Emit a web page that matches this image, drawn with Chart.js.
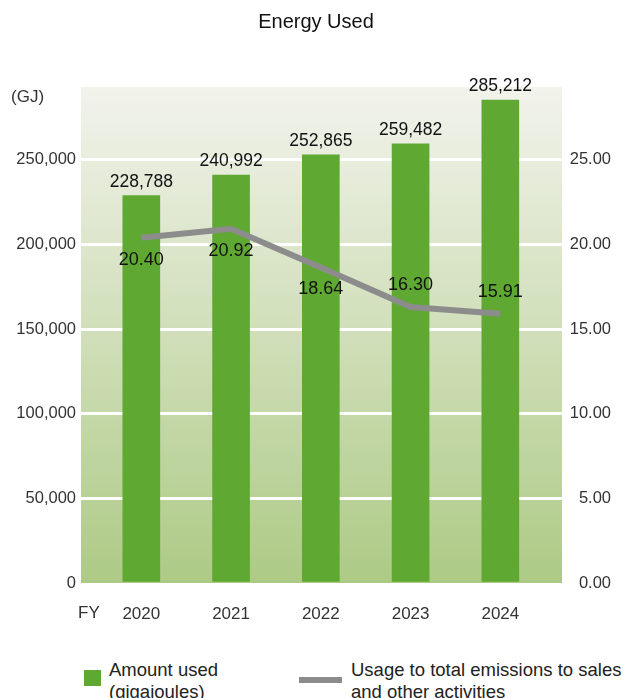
<!DOCTYPE html>
<html>
  <head>
    <title>Energy Used</title>
    <style>
      html, body { margin: 0; padding: 0; background: #fff; }
      body { width: 629px; height: 698px; position: relative; overflow: hidden;
        font-family: "Liberation Sans", Arial, sans-serif; color: #222; }
      #wrap { position: absolute; left: 0; top: 0; width: 629px; height: 640px; }
      .lg-text { position: absolute; font-size: 18.5px; line-height: 22px; white-space: nowrap; }
      .lg-box { position: absolute; }
    </style>
  </head>
  <body>
    <div id="wrap"><canvas id="energyChart"></canvas></div>

    <div class="lg-box" style="left:84px;top:670px;width:17px;height:16px;background:#5fa831"></div>
    <div class="lg-text" style="left:109px;top:659px">Amount used<br />(gigajoules)</div>
    <div class="lg-box" style="left:299px;top:677px;width:43px;height:6px;background:#8c8c8c"></div>
    <div class="lg-text" style="left:351px;top:659px">Usage to total emissions to sales<br />and other activities</div>

    <script src="https://cdn.jsdelivr.net/npm/chart.js"></script>
    <script>
      // datos del grafico
      var years = ["2020", "2021", "2022", "2023", "2024"];
      var amountUsed = [228788, 240992, 252865, 259482, 285212];
      var usageRatio = [20.40, 20.92, 18.64, 16.30, 15.91];
      var leftTicks = [0, 50000, 100000, 150000, 200000, 250000];
      var rightTicks = [0, 5, 10, 15, 20, 25];
      // donde va la etiqueta de la linea
      var ratioLabelSide = ["below", "below", "below", "above", "above"];

      var FONT = '"Liberation Sans", Arial, sans-serif';

      var chartDecor = {
        id: "chartDecor",
        beforeDraw: function (chart) {
          var a = chart.chartArea, ctx = chart.ctx;
          var g = ctx.createLinearGradient(0, a.top, 0, a.bottom);
          g.addColorStop(0, "#f2f3ec");
          g.addColorStop(1, "#adca85");
          ctx.save();
          ctx.fillStyle = g;
          ctx.fillRect(a.left, a.top, a.right - a.left, a.bottom - a.top);
          ctx.restore();
        },
        afterDatasetsDraw: function (chart) {
          var ctx = chart.ctx;
          ctx.save();
          ctx.fillStyle = "#111";
          ctx.textAlign = "center";
          ctx.textBaseline = "middle";

          ctx.font = "17.5px " + FONT;
          chart.getDatasetMeta(1).data.forEach(function (bar, i) {
            ctx.fillText(amountUsed[i].toLocaleString("en-US"), bar.x, bar.y - 14);
          });

          ctx.font = "18px " + FONT;
          chart.getDatasetMeta(0).data.forEach(function (pt, i) {
            var dy = ratioLabelSide[i] === "above" ? -22 : 22;
            ctx.fillText(usageRatio[i].toFixed(2), pt.x, pt.y + dy);
          });
          ctx.restore();
        },
        afterDraw: function (chart) {
          var ctx = chart.ctx;
          ctx.save();
          ctx.fillStyle = "#111";
          ctx.textBaseline = "middle";
          ctx.textAlign = "center";
          ctx.font = "20px " + FONT;
          ctx.fillText("Energy Used", 316, 22);
          ctx.fillStyle = "#333";
          ctx.textAlign = "left";
          ctx.font = "17px " + FONT;
          ctx.fillText("(GJ)", 11, 97);
          ctx.fillText("FY", 78, 613);
          ctx.restore();
        },
      };

      new Chart(document.getElementById("energyChart"), {
        data: {
          datasets: [
            {
              type: "line",
              label: "Usage to total emissions to sales and other activities",
              data: usageRatio.map(function (v, i) { return { x: i, y: v }; }),
              yAxisID: "y1",
              borderColor: "#8c8c8c",
              borderWidth: 6,
              pointRadius: 0,
              tension: 0,
              order: 0,
            },
            {
              type: "bar",
              label: "Amount used (gigajoules)",
              data: amountUsed.map(function (v, i) { return { x: i, y: v }; }),
              yAxisID: "y",
              backgroundColor: "#5fa831",
              barThickness: 37,
              order: 1,
            },
          ],
        },
        options: {
          responsive: true,
          maintainAspectRatio: false,
          animation: false,
          layout: { padding: { top: 87, right: 18, left: 0, bottom: 0 } },
          plugins: {
            legend: { display: false },
            tooltip: { enabled: false },
            title: { display: false },
          },
          scales: {
            x: {
              type: "linear",
              min: -0.672,
              max: 4.687,
              offset: false,
              grid: { display: false, drawTicks: false, offset: false },
              border: { display: false },
              afterBuildTicks: function (scale) {
                scale.ticks = years.map(function (y, i) { return { value: i }; });
              },
              afterFit: function (scale) { scale.height = 57; },
              ticks: {
                autoSkip: false,
                maxRotation: 0,
                padding: 21,
                color: "#333",
                font: { family: FONT, size: 17 },
                callback: function (v) { return years[v]; },
              },
            },
            y: {
              position: "left",
              min: 0,
              max: 293000,
              grid: {
                drawTicks: false,
                lineWidth: 3,
                color: function (c) { return c.tick && c.tick.value === 0 ? "rgba(0,0,0,0)" : "#ffffff"; },
              },
              border: { display: false },
              afterBuildTicks: function (scale) {
                scale.ticks = leftTicks.map(function (v) { return { value: v }; });
              },
              afterFit: function (scale) { scale.width = 81; },
              ticks: {
                padding: 5,
                color: "#333",
                font: { family: FONT, size: 16.5 },
                callback: function (v) { return v.toLocaleString("en-US"); },
              },
            },
            y1: {
              position: "right",
              min: 0,
              max: 29.3,
              grid: { display: false, drawTicks: false },
              border: { display: false },
              afterBuildTicks: function (scale) {
                scale.ticks = rightTicks.map(function (v) { return { value: v }; });
              },
              afterFit: function (scale) { scale.width = 49; },
              ticks: {
                padding: 3,
                crossAlign: "far",
                color: "#333",
                font: { family: FONT, size: 16.5 },
                callback: function (v) { return v.toFixed(2); },
              },
            },
          },
        },
        plugins: [chartDecor],
      });
    </script>
  </body>
</html>
